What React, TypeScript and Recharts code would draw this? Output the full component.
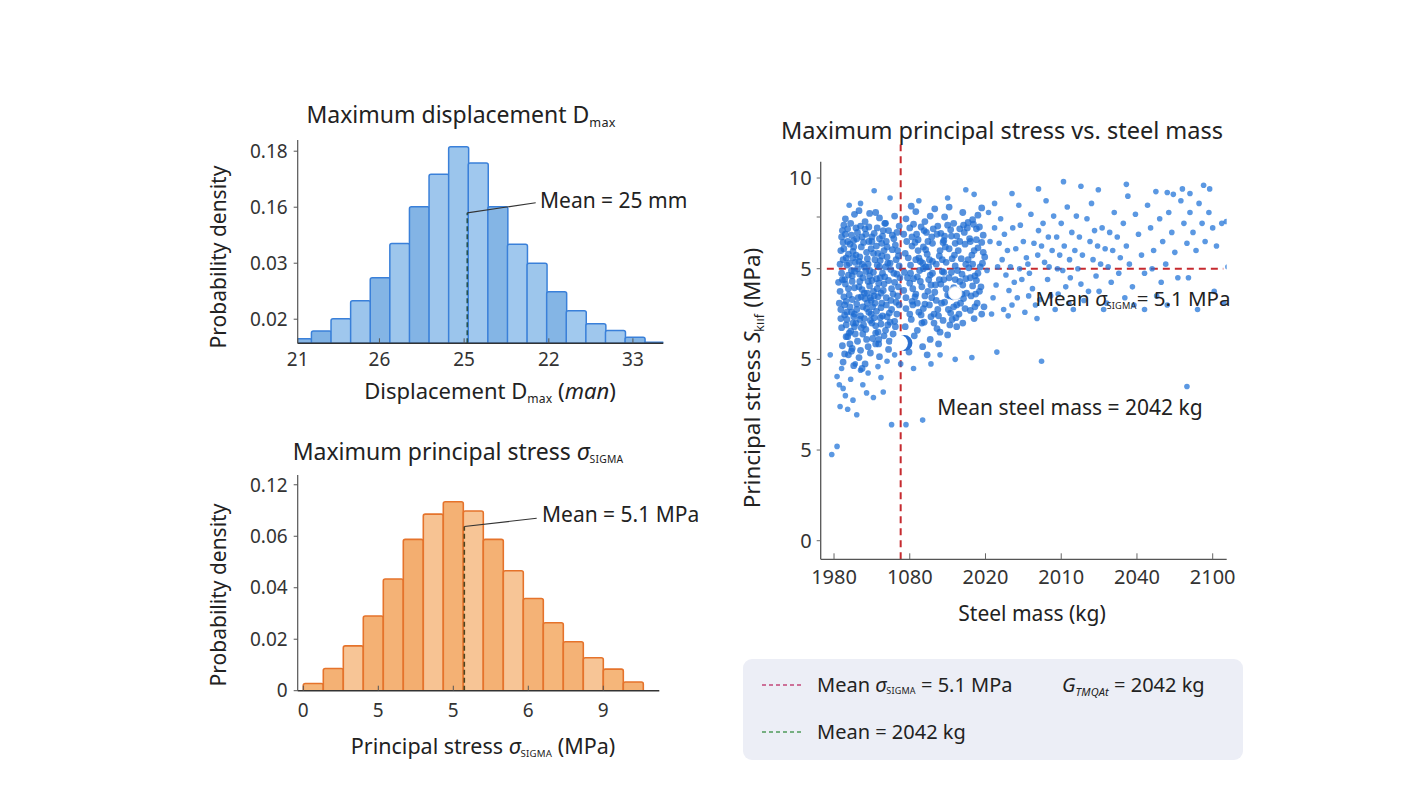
import React from 'react';
import {
  ComposedChart,
  Bar,
  Cell,
  XAxis,
  YAxis,
  ReferenceLine,
  ReferenceDot,
  ScatterChart,
  Scatter,
} from 'recharts';

const FONT = "'Noto Sans', 'Open Sans', sans-serif";

// ---- top histogram: maximum displacement (x in bin units) ----
const dispBins = [-0.5, 0.5, 1.5, 2.5, 3.5, 4.5, 5.5, 6.5, 7.5, 8.5, 9.5, 10.5, 11.5, 12.5, 13.5, 14.5, 15.5, 16.5, 17.5];
const dispDensity = [0.65, 0.79, 1.01, 1.33, 1.74, 2.35, 3.01, 3.59, 4.08, 3.79, 3.01, 2.34, 2.0, 1.49, 1.15, 0.92, 0.8, 0.68, 0.59];
const dispTickPos = [-0.7, 3.47, 7.79, 12.11, 16.4];
const dispTickLabels = ['21', '26', '25', '22', '33'];
const dispDensPos = [1, 2, 3, 4];
const dispDensLabels = ['0.02', '0.03', '0.16', '0.18'];
const dispMean = 7.95;

// ---- bottom histogram: maximum principal stress ----
const stressBins = [0.5, 1.5, 2.5, 3.5, 4.5, 5.5, 6.5, 7.5, 8.5, 9.5, 10.5, 11.5, 12.5, 13.5, 14.5, 15.5, 16.5];
const stressDensity = [0.14, 0.43, 0.87, 1.45, 2.17, 2.94, 3.43, 3.67, 3.49, 2.94, 2.33, 1.79, 1.32, 0.95, 0.64, 0.42, 0.17];
const stressTickPos = [0, 3.75, 7.5, 11.25, 15];
const stressTickLabels = ['0', '5', '5', '6', '9'];
const stressDensPos = [0, 1, 2, 3, 4];
const stressDensLabels = ['0', '0.02', '0.04', '0.06', '0.12'];
const stressMean = 8.05;

// ---- scatter: stress vs steel mass (tick units) ----
const massTickPos = [0, 1, 2, 3, 4, 5];
const massTickLabels = ['1980', '1080', '2020', '2010', '2040', '2100'];
const sigmaTickPos = [0, 1, 2, 3, 3.57, 4];
const sigmaTickLabels = ['0', '5', '5', '5', '', '10'];
const meanMass = 0.88;
const meanSigma = 3.0;

const pointsLeft = [
  [0.15, 3.55], [0.27, 3.6], [0.41, 3.52], [0.55, 3.62], [0.68, 3.5], [0.8, 3.58], [0.33, 3.64], [0.6, 3.56], [0.22, 3.5], [0.47, 3.61],
  [0.1, 3.35], [0.18, 3.44], [0.26, 3.31], [0.35, 3.47], [0.42, 3.38], [0.5, 3.3], [0.57, 3.45], [0.64, 3.36], [0.72, 3.42], [0.79, 3.33],
  [0.86, 3.47], [0.13, 3.48], [0.31, 3.4], [0.46, 3.46], [0.69, 3.3], [0.83, 3.4], [0.23, 3.37], [0.53, 3.39],
  [0.09, 3.2], [0.16, 3.12], [0.21, 3.27], [0.29, 3.15], [0.36, 3.24], [0.44, 3.11], [0.49, 3.22], [0.58, 3.17], [0.63, 3.28], [0.7, 3.13],
  [0.77, 3.21], [0.85, 3.14], [0.12, 3.29], [0.25, 3.19], [0.39, 3.29], [0.54, 3.1], [0.66, 3.2], [0.81, 3.26], [0.33, 3.08], [0.74, 3.06],
  [0.1, 2.95], [0.17, 3.04], [0.24, 2.92], [0.31, 3.0], [0.38, 2.9], [0.45, 3.05], [0.52, 2.96], [0.6, 3.02], [0.67, 2.91], [0.75, 2.99],
  [0.83, 2.94], [0.14, 2.88], [0.28, 3.07], [0.42, 2.97], [0.56, 2.89], [0.71, 3.06], [0.86, 3.03],
  [0.08, 2.75], [0.15, 2.83], [0.2, 2.71], [0.27, 2.79], [0.34, 2.86], [0.4, 2.73], [0.47, 2.81], [0.53, 2.7], [0.59, 2.84], [0.65, 2.76],
  [0.72, 2.87], [0.78, 2.72], [0.85, 2.8], [0.11, 2.88], [0.37, 2.77], [0.62, 2.73], [0.24, 2.86], [0.5, 2.87],
  [0.09, 2.55], [0.16, 2.64], [0.23, 2.52], [0.3, 2.61], [0.36, 2.69], [0.43, 2.56], [0.49, 2.65], [0.56, 2.53], [0.63, 2.62], [0.69, 2.68],
  [0.76, 2.55], [0.82, 2.63], [0.13, 2.69], [0.27, 2.5], [0.41, 2.67], [0.58, 2.69], [0.73, 2.51],
  [0.1, 2.35], [0.17, 2.44], [0.22, 2.31], [0.29, 2.4], [0.35, 2.48], [0.42, 2.33], [0.48, 2.43], [0.55, 2.37], [0.61, 2.46], [0.68, 2.32],
  [0.74, 2.41], [0.81, 2.36], [0.14, 2.49], [0.39, 2.38], [0.58, 2.3], [0.26, 2.47],
  [0.11, 2.15], [0.18, 2.25], [0.24, 2.12], [0.31, 2.2], [0.38, 2.28], [0.45, 2.14], [0.51, 2.23], [0.59, 2.17], [0.66, 2.26], [0.72, 2.11],
  [0.2, 2.29], [0.35, 2.1], [0.55, 2.29], [0.14, 2.06],
  [0.12, 1.97], [0.19, 2.05], [0.26, 1.93], [0.33, 2.02], [0.41, 1.95], [0.48, 2.07], [0.23, 2.09], [0.6, 2.03], [0.37, 1.9],
  [0.13, 3.22], [0.2, 3.06], [0.27, 2.97], [0.34, 3.13], [0.4, 3.02], [0.47, 2.92], [0.52, 3.17], [0.61, 3.09], [0.19, 2.78], [0.32, 2.68],
  [0.44, 2.73], [0.51, 2.58], [0.66, 2.83], [0.21, 2.58], [0.34, 2.44], [0.46, 2.52], [0.62, 2.39], [0.28, 2.28], [0.43, 2.22], [0.69, 2.6],
  [0.79, 2.95], [0.15, 3.38], [0.37, 3.35], [0.6, 3.33], [0.25, 2.4], [0.53, 2.46], [0.07, 2.62], [0.08, 3.05], [0.86, 2.6], [0.64, 2.95],
  [0.12, 3.1], [0.19, 2.93], [0.26, 3.24], [0.3, 2.55], [0.37, 3.05], [0.44, 2.62], [0.5, 3.35], [0.57, 2.78], [0.63, 3.14], [0.7, 2.47],
  [0.77, 3.37], [0.84, 2.7], [0.16, 2.38], [0.23, 2.98], [0.29, 3.45], [0.36, 2.35], [0.43, 3.18], [0.49, 2.5], [0.56, 3.25], [0.62, 2.57],
  [0.68, 3.02], [0.75, 2.65], [0.82, 3.1], [0.09, 2.45], [0.18, 3.3], [0.33, 2.8], [0.47, 2.98], [0.54, 2.62], [0.71, 2.38], [0.8, 2.85],
  [0.14, 2.6], [0.25, 3.12], [0.4, 2.45], [0.52, 2.75], [0.65, 3.42], [0.78, 2.28], [0.21, 2.17], [0.46, 3.3], [0.59, 2.22], [0.83, 2.5],
  [0.11, 3.42], [0.17, 2.52], [0.24, 2.66], [0.3, 3.33], [0.38, 2.58], [0.45, 2.86], [0.5, 2.4], [0.57, 3.04], [0.64, 2.48], [0.7, 3.24],
  [0.76, 2.78], [0.84, 3.2], [0.19, 3.16], [0.27, 2.36], [0.34, 2.94], [0.41, 3.44], [0.48, 2.68], [0.55, 2.17], [0.61, 2.9], [0.67, 3.5],
  [0.73, 2.2], [0.8, 2.42], [0.87, 2.9], [0.06, 2.85], [0.16, 2.25],
];

const pointsCentre = [
  [0.95, 3.55], [1.08, 3.63], [1.2, 3.52], [1.33, 3.66], [1.46, 3.57], [1.58, 3.5], [1.7, 3.62], [1.83, 3.54], [1.95, 3.67], [1.02, 3.69],
  [1.27, 3.58], [1.52, 3.68], [1.77, 3.51], [1.9, 3.59],
  [0.92, 3.38], [1.0, 3.45], [1.11, 3.32], [1.19, 3.42], [1.29, 3.35], [1.37, 3.47], [1.45, 3.31], [1.54, 3.43], [1.62, 3.36], [1.71, 3.48],
  [1.79, 3.33], [1.88, 3.44], [1.97, 3.37], [1.05, 3.49], [1.24, 3.3], [1.41, 3.39], [1.66, 3.3], [1.84, 3.49], [1.15, 3.46], [1.5, 3.48],
  [0.94, 3.17], [1.03, 3.25], [1.12, 3.12], [1.21, 3.21], [1.3, 3.28], [1.39, 3.14], [1.47, 3.24], [1.56, 3.11], [1.64, 3.2], [1.73, 3.27],
  [1.82, 3.15], [1.9, 3.23], [1.99, 3.13], [1.07, 3.29], [1.26, 3.1], [1.44, 3.29], [1.6, 3.28], [1.77, 3.1], [1.95, 3.29], [1.17, 3.06],
  [0.93, 2.96], [1.01, 3.04], [1.1, 2.91], [1.18, 3.0], [1.27, 2.93], [1.35, 3.05], [1.43, 2.97], [1.52, 2.9], [1.6, 3.03], [1.69, 2.94],
  [1.78, 3.01], [1.86, 2.92], [1.96, 3.06], [1.14, 3.08], [1.48, 3.07], [1.74, 2.89],
  [0.92, 2.76], [1.0, 2.84], [1.08, 2.72], [1.16, 2.8], [1.25, 2.88], [1.33, 2.74], [1.41, 2.83], [1.5, 2.71], [1.58, 2.79], [1.66, 2.86],
  [1.75, 2.73], [1.83, 2.81], [1.92, 2.75], [1.2, 2.7], [1.45, 2.88], [1.63, 2.7], [1.88, 2.87], [1.05, 2.89],
  [0.95, 2.56], [1.03, 2.64], [1.12, 2.52], [1.2, 2.61], [1.29, 2.68], [1.37, 2.55], [1.46, 2.63], [1.54, 2.51], [1.62, 2.6], [1.71, 2.67],
  [1.8, 2.54], [1.89, 2.62], [1.98, 2.58], [1.07, 2.69], [1.32, 2.5], [1.57, 2.69],
  [0.94, 2.36], [1.02, 2.44], [1.1, 2.32], [1.19, 2.41], [1.28, 2.47], [1.36, 2.34], [1.44, 2.43], [1.53, 2.38], [1.61, 2.46], [1.7, 2.4],
  [1.85, 2.45], [1.15, 2.49], [1.4, 2.3],
  [0.96, 2.18], [1.06, 2.26], [1.17, 2.14], [1.27, 2.22], [1.38, 2.17], [1.5, 2.27], [1.23, 2.05], [0.99, 2.08],
  [0.98, 3.12], [1.13, 2.98], [1.23, 3.16], [1.34, 2.82], [1.4, 3.2], [1.55, 2.96], [1.68, 3.11], [1.8, 2.9], [1.04, 2.6], [1.26, 2.6],
  [1.51, 2.55], [1.6, 2.88], [1.85, 3.2], [1.09, 3.38], [1.36, 3.38], [1.72, 3.4], [0.97, 2.9], [1.3, 3.08], [1.65, 2.5], [1.93, 3.02],
  [0.96, 3.3], [1.04, 2.78], [1.11, 3.2], [1.18, 2.56], [1.25, 3.02], [1.32, 2.4], [1.39, 2.88], [1.46, 3.36], [1.53, 2.7], [1.59, 3.15],
  [1.67, 2.62], [1.74, 3.05], [1.81, 2.7], [1.88, 3.32], [1.94, 2.8], [1.0, 2.5], [1.14, 2.86], [1.22, 3.4], [1.35, 2.65], [1.43, 3.1],
  [1.56, 2.44], [1.63, 2.98], [1.76, 3.45], [1.86, 2.58], [1.97, 3.18], [1.08, 3.1], [1.3, 2.95], [1.48, 2.78], [1.7, 2.82], [1.9, 2.95],
  [0.95, 2.68], [1.03, 3.35], [1.1, 2.62], [1.18, 3.24], [1.24, 2.75], [1.31, 3.44], [1.38, 2.48], [1.45, 2.96], [1.52, 3.22], [1.58, 2.58],
  [1.66, 3.44], [1.73, 2.56], [1.8, 3.3], [1.87, 2.72], [1.95, 2.5], [1.01, 2.95], [1.16, 2.4], [1.28, 2.82], [1.42, 2.62], [1.55, 3.36],
  [1.69, 2.72], [1.83, 3.05], [1.21, 3.02], [1.62, 2.36], [1.92, 3.46],
];

const pointsRight = [
  [2.04, 3.62], [2.12, 3.45], [2.18, 3.28], [2.22, 3.1], [2.27, 2.93], [2.31, 2.76], [2.35, 2.6], [2.08, 2.5], [2.14, 2.82], [2.2, 3.55],
  [2.25, 3.38], [2.29, 3.2], [2.33, 3.02], [2.38, 2.85], [2.42, 2.68], [2.46, 3.48], [2.5, 3.3], [2.54, 3.12], [2.58, 2.95], [2.62, 2.78],
  [2.66, 2.6], [2.44, 3.7], [2.52, 2.52], [2.7, 3.42], [2.74, 3.25], [2.78, 3.07], [2.82, 2.88], [2.86, 2.7], [2.9, 3.58], [2.94, 3.35],
  [2.98, 3.15], [3.02, 2.98], [3.06, 2.8], [3.1, 2.62], [2.16, 3.02], [2.4, 3.22], [2.6, 3.6], [2.72, 2.66], [2.88, 3.2], [3.0, 3.5],
  [3.14, 3.4], [3.18, 3.2], [3.22, 3.0], [3.26, 2.83], [3.3, 2.65], [3.34, 3.55], [3.38, 3.3], [3.42, 3.1], [3.46, 2.92], [3.5, 2.75],
  [3.54, 3.45], [3.58, 3.22], [3.62, 3.02], [3.66, 2.85], [3.7, 3.62], [3.74, 3.35], [3.78, 3.12], [2.06, 3.3], [2.1, 2.68], [2.24, 2.55],
  [2.36, 3.45], [2.48, 2.88], [2.56, 3.05], [2.64, 3.28], [2.76, 3.5], [2.84, 3.02], [2.96, 2.72], [3.04, 3.25], [3.12, 2.9], [3.2, 3.58],
  [3.28, 3.15], [3.36, 2.75], [3.44, 3.42], [3.52, 3.05], [3.6, 2.62], [3.68, 3.2], [3.76, 2.95], [2.02, 2.98], [2.3, 2.48], [2.68, 2.45],
  [2.92, 2.55], [3.08, 3.68], [3.4, 3.72], [3.16, 2.55], [2.12, 3.72], [2.8, 3.75], [3.56, 2.55], [2.45, 3.0], [2.57, 2.7], [2.69, 3.15],
  [2.83, 3.35], [2.95, 3.0], [3.11, 3.1], [3.24, 3.35], [3.48, 3.25], [3.64, 3.4],
  [3.82, 3.5], [3.86, 3.25], [3.9, 3.05], [3.94, 2.8], [3.98, 3.6], [4.02, 3.38], [4.06, 3.15], [4.1, 2.95], [4.14, 3.7], [4.18, 3.45],
  [4.22, 3.2], [4.26, 2.7], [4.3, 3.55], [4.34, 3.3], [4.38, 3.05], [4.42, 3.62], [4.46, 3.4], [4.5, 3.18], [4.54, 2.9], [4.58, 3.75],
  [4.62, 3.5], [4.66, 3.28], [4.7, 3.62], [4.74, 3.4], [4.78, 3.2], [4.82, 3.72], [4.86, 3.5], [4.9, 3.3], [4.95, 3.62], [5.0, 3.45],
  [5.05, 3.25], [5.12, 3.5], [5.18, 3.52], [5.2, 3.02], [5.15, 2.62], [4.4, 2.6], [4.1, 2.55], [3.88, 3.8], [4.25, 3.85], [4.6, 3.88],
  [4.88, 3.92], [3.96, 2.6], [4.32, 2.85], [4.68, 2.9], [5.02, 2.75], [4.8, 2.55], [3.84, 2.68], [4.2, 3.0], [4.48, 3.82], [4.96, 3.88],
];

const pointsTail = [
  [-0.05, 2.05], [0.04, 1.81], [0.07, 1.72], [0.15, 1.6], [0.08, 1.48], [0.18, 1.45], [0.3, 1.39], [0.43, 1.63], [0.52, 1.58], [0.65, 1.64],
  [0.76, 1.28], [0.95, 1.28], [1.17, 1.33], [0.04, 1.04], [-0.03, 0.95], [0.22, 1.78], [0.35, 1.88], [0.28, 1.95], [0.45, 1.85], [0.58, 1.92],
  [0.7, 1.98], [0.8, 2.05], [1.4, 2.05], [1.6, 2.0], [1.82, 2.02], [2.15, 2.08], [2.74, 1.98], [0.12, 1.68], [0.25, 1.55], [0.38, 1.72],
  [0.1, 1.9], [0.62, 1.8], [0.88, 1.95], [1.05, 1.9], [1.28, 1.95], [4.66, 1.7],
  [0.53, 3.86], [0.74, 3.78], [0.35, 3.72], [1.12, 3.75], [1.74, 3.87], [1.85, 3.82], [2.35, 3.83], [2.7, 3.88], [3.03, 3.96], [3.26, 3.91],
  [3.49, 3.87], [3.86, 3.93], [4.4, 3.84], [4.7, 3.83], [0.2, 3.7], [1.5, 3.78],
];

const denseData = [...pointsLeft, ...pointsCentre].map(([x, y]) => ({ x, y }));
const sparseData = [...pointsRight, ...pointsTail].map(([x, y]) => ({ x, y }));
const dispData = dispBins.map((bin, i) => ({ bin, density: dispDensity[i] }));
const stressData = stressBins.map((bin, i) => ({ bin, density: stressDensity[i] }));

const blueFills = ['#86b6e6', '#80b2e4', '#9fc7ed', '#9cc5ec', '#84b5e5', '#9dc6ec', '#83b4e5', '#9ec6ed', '#9bc5ec', '#a0c8ee', '#84b5e5', '#a0c8ee', '#9dc6ec', '#84b5e5', '#a1c9ee', '#9fc7ed', '#a2c9ee', '#84b5e5', '#80b2e4'];
const orangeFills = ['#f5b67a', '#f4b174', '#f7c596', '#f4b174', '#f4b276', '#f3ae70', '#f7c393', '#f4b174', '#f7c596', '#f4b174', '#f7c596', '#f4b276', '#f5b67a', '#f4b276', '#f7c596', '#f5b67a', '#f4b174'];

const tickFont = { fill: '#333', fontSize: 19, fontFamily: FONT };

const fmt = (pos: number[], labels: string[]) => (v: number) => {
  const i = pos.findIndex((p) => Math.abs(p - v) < 1e-6);
  return i >= 0 ? labels[i] : '';
};

const Sub = ({ children, size = 0.55 }: { children: React.ReactNode; size?: number }) => (
  <span style={{ fontSize: `${size}em`, verticalAlign: '-0.3em', letterSpacing: 0.2 }}>{children}</span>
);

const Txt = ({
  x, y, size = 20, rotate = 0, left = false, children,
}: { x: number; y: number; size?: number; rotate?: number; left?: boolean; children: React.ReactNode }) => (
  <div
    style={{
      position: 'absolute',
      left: x,
      top: y,
      fontSize: size,
      fontFamily: FONT,
      color: '#222',
      whiteSpace: 'nowrap',
      lineHeight: 1,
      transform: `translate(${left ? '0' : '-50%'}, -50%) rotate(${rotate}deg)`,
    }}
  >
    {children}
  </div>
);

const DenseDot = (props: any) => <circle cx={props.cx} cy={props.cy} r={3.4} fill="#1e6cd2" fillOpacity={0.75} />;
const SparseDot = (props: any) => <circle cx={props.cx} cy={props.cy} r={2.8} fill="#2476d8" fillOpacity={0.75} />;

const DisplacementHistogram = () => (
  <div style={{ position: 'absolute', left: 200, top: 90 }}>
    <ComposedChart
      width={480}
      height={300}
      data={dispData}
      barCategoryGap={0}
      margin={{ top: 50, right: 16.7, bottom: 16.7, left: 37.7 }}
    >
      <XAxis
        dataKey="bin"
        type="number"
        domain={[-0.7, 17.95]}
        allowDataOverflow
        ticks={dispTickPos}
        interval={0}
        tickFormatter={fmt(dispTickPos, dispTickLabels)}
        tick={tickFont}
        tickSize={-5}
        tickMargin={14}
        height={30}
        axisLine={{ stroke: '#333', strokeWidth: 1.5 }}
        tickLine={{ stroke: '#555' }}
      />
      <YAxis
        type="number"
        domain={[0.57, 4.2]}
        allowDataOverflow
        ticks={dispDensPos}
        interval={0}
        tickFormatter={fmt(dispDensPos, dispDensLabels)}
        tick={tickFont}
        tickSize={4}
        tickMargin={6}
        width={60}
        axisLine={{ stroke: '#555', strokeWidth: 1.2 }}
        tickLine={{ stroke: '#555' }}
      />
      <Bar dataKey="density" stroke="#3a80d9" strokeWidth={1.5} radius={[2, 2, 0, 0]} isAnimationActive={false}>
        {dispData.map((d, i) => (
          <Cell key={d.bin} fill={blueFills[i]} />
        ))}
      </Bar>
      <ReferenceLine
        segment={[{ x: dispMean, y: 0.57 }, { x: dispMean, y: 2.9 }]}
        stroke="#25514f"
        strokeWidth={1.6}
        strokeDasharray="5 3"
      />
      <ReferenceLine
        segment={[{ x: dispMean, y: 2.9 }, { x: 11.44, y: 3.08 }]}
        stroke="#333"
        strokeWidth={1.2}
        ifOverflow="visible"
      />
    </ComposedChart>
  </div>
);

const StressHistogram = () => (
  <div style={{ position: 'absolute', left: 200, top: 430 }}>
    <ComposedChart
      width={480}
      height={300}
      data={stressData}
      barCategoryGap={0}
      margin={{ top: 45, right: 20.7, bottom: 9.3, left: 37.7 }}
    >
      <XAxis
        dataKey="bin"
        type="number"
        domain={[-0.28, 17.8]}
        allowDataOverflow
        ticks={stressTickPos}
        interval={0}
        tickFormatter={fmt(stressTickPos, stressTickLabels)}
        tick={tickFont}
        tickSize={-5}
        tickMargin={17.5}
        height={30}
        axisLine={{ stroke: '#333', strokeWidth: 1.5 }}
        tickLine={{ stroke: '#555' }}
      />
      <YAxis
        type="number"
        domain={[0, 4.19]}
        allowDataOverflow
        ticks={stressDensPos}
        interval={0}
        tickFormatter={fmt(stressDensPos, stressDensLabels)}
        tick={tickFont}
        tickSize={4}
        tickMargin={6}
        width={60}
        axisLine={{ stroke: '#555', strokeWidth: 1.2 }}
        tickLine={{ stroke: '#555' }}
      />
      <Bar dataKey="density" stroke="#e5732b" strokeWidth={1.6} radius={[2, 2, 0, 0]} isAnimationActive={false}>
        {stressData.map((d, i) => (
          <Cell key={d.bin} fill={orangeFills[i]} />
        ))}
      </Bar>
      <ReferenceLine
        segment={[{ x: stressMean, y: 0 }, { x: stressMean, y: 3.19 }]}
        stroke="#4b4420"
        strokeWidth={1.6}
        strokeDasharray="5 3"
      />
      <ReferenceLine
        segment={[{ x: stressMean, y: 3.19 }, { x: 11.67, y: 3.35 }]}
        stroke="#333"
        strokeWidth={1.2}
        ifOverflow="visible"
      />
    </ComposedChart>
  </div>
);

const StressMassScatter = () => (
  <div style={{ position: 'absolute', left: 730, top: 110 }}>
    <ScatterChart width={520} height={490} margin={{ top: 51.7, right: 23.3, bottom: 10.7, left: 40.7 }}>
      <XAxis
        dataKey="x"
        type="number"
        domain={[-0.176, 5.185]}
        allowDataOverflow
        ticks={massTickPos}
        interval={0}
        tickFormatter={fmt(massTickPos, massTickLabels)}
        tick={{ ...tickFont, fontSize: 20 }}
        tickSize={-6}
        tickMargin={16}
        height={30}
        axisLine={{ stroke: '#555', strokeWidth: 1.3 }}
        tickLine={{ stroke: '#666' }}
      />
      <YAxis
        dataKey="y"
        type="number"
        domain={[-0.205, 4.18]}
        allowDataOverflow
        ticks={sigmaTickPos}
        interval={0}
        tickFormatter={fmt(sigmaTickPos, sigmaTickLabels)}
        tick={{ ...tickFont, fontSize: 20 }}
        tickSize={4}
        tickMargin={5}
        width={50}
        axisLine={{ stroke: '#555', strokeWidth: 1.3 }}
        tickLine={{ stroke: '#666' }}
      />
      <Scatter data={sparseData} shape={SparseDot} isAnimationActive={false} />
      <Scatter data={denseData} shape={DenseDot} isAnimationActive={false} />
      <ReferenceDot x={0.93} y={2.18} r={8} fill="#2a6fd0" stroke="none" />
      <ReferenceDot x={0.87} y={2.18} r={8} fill="#fff" stroke="none" />
      <ReferenceDot x={1.6} y={2.73} r={6.5} fill="#fff" stroke="#dde8f6" />
      <ReferenceLine
        segment={[{ x: meanMass, y: -0.205 }, { x: meanMass, y: 4.37 }]}
        stroke="#fff"
        strokeOpacity={0.6}
        strokeWidth={7}
        ifOverflow="visible"
      />
      <ReferenceLine
        segment={[{ x: -0.095, y: meanSigma }, { x: 5.14, y: meanSigma }]}
        stroke="#fff"
        strokeOpacity={0.6}
        strokeWidth={7}
        ifOverflow="visible"
      />
      <ReferenceLine
        segment={[{ x: meanMass, y: -0.205 }, { x: meanMass, y: 4.37 }]}
        stroke="#c62a2f"
        strokeWidth={2}
        strokeDasharray="7 5"
        ifOverflow="visible"
      />
      <ReferenceLine
        segment={[{ x: -0.095, y: meanSigma }, { x: 5.14, y: meanSigma }]}
        stroke="#c62a2f"
        strokeWidth={2}
        strokeDasharray="7 5"
        ifOverflow="visible"
      />
    </ScatterChart>
  </div>
);

const LegendBox = () => (
  <div
    style={{
      position: 'absolute',
      left: 743,
      top: 659,
      width: 500,
      height: 101,
      background: '#eceef6',
      borderRadius: 9,
      fontFamily: FONT,
    }}
  >
    <svg width={60} height={101} style={{ position: 'absolute', left: 0, top: 0 }}>
      <line x1={19} x2={58} y1={26} y2={26} stroke="#c2477a" strokeWidth={1.5} strokeDasharray="4 3" />
      <line x1={19} x2={58} y1={73} y2={73} stroke="#4f9a5b" strokeWidth={1.5} strokeDasharray="4 3" />
    </svg>
    <Txt x={74} y={26} size={20} left>
      Mean <i>σ</i>
      <Sub size={0.45}>SIGMA</Sub> = 5.1 MPa
    </Txt>
    <Txt x={319} y={27} size={20} left>
      <i>G</i>
      <Sub>
        <i>TMQAt</i>
      </Sub>{' '}
      = 2042 kg
    </Txt>
    <Txt x={74} y={73} size={20} left>
      Mean = 2042 kg
    </Txt>
  </div>
);

const App = () => (
  <div style={{ position: 'absolute', left: 0, top: 0, width: 1427, height: 803, background: '#fff', overflow: 'hidden' }}>
    <DisplacementHistogram />
    <StressHistogram />
    <StressMassScatter />
    <LegendBox />

    <Txt x={461} y={116} size={23}>
      Maximum displacement D<Sub>max</Sub>
    </Txt>
    <Txt x={218} y={257} size={21} rotate={-90}>
      Probability density
    </Txt>
    <Txt x={490} y={392} size={22}>
      Displacement D<Sub>max</Sub> (<i>man</i>)
    </Txt>
    <Txt x={540} y={200} size={21} left>
      Mean = 25 mm
    </Txt>

    <Txt x={458} y={452} size={23}>
      Maximum principal stress <i>σ</i>
      <Sub size={0.45}>SIGMA</Sub>
    </Txt>
    <Txt x={218} y={595} size={21} rotate={-90}>
      Probability density
    </Txt>
    <Txt x={483} y={747} size={21.5}>
      Principal stress <i>σ</i>
      <Sub size={0.45}>SIGMA</Sub> (MPa)
    </Txt>
    <Txt x={542} y={514} size={21} left>
      Mean = 5.1 MPa
    </Txt>

    <Txt x={1002} y={131} size={23.5}>
      Maximum principal stress vs. steel mass
    </Txt>
    <Txt x={754} y={378} size={22.5} rotate={-90}>
      Principal stress <i>S</i>
      <Sub>kııf</Sub> (MPa)
    </Txt>
    <Txt x={1032} y={613} size={21}>
      Steel mass (kg)
    </Txt>
    <Txt x={1133} y={299} size={20.5}>
      Mean <i>σ</i>
      <Sub size={0.45}>SIGMA</Sub>= 5.1 MPa
    </Txt>
    <Txt x={1070} y={407} size={21}>
      Mean steel mass = 2042 kg
    </Txt>
  </div>
);

export default App;
